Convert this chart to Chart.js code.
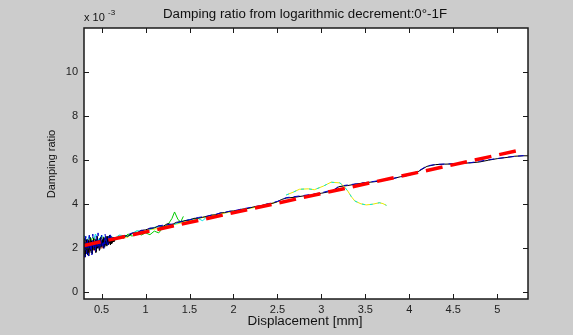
<!DOCTYPE html>
<html>
<head>
<meta charset="utf-8">
<script src="https://cdn.jsdelivr.net/npm/chart.js@4"></script>
<style>
  html, body { margin: 0; padding: 0; background: #cccccc; }
  #wrap { width: 573px; height: 335px; }
</style>
</head>
<body>
<div id="wrap"><canvas id="dampChart" width="573" height="335"></canvas></div>
<script>
// axis ticks
const xTicks = [0.5, 1, 1.5, 2, 2.5, 3, 3.5, 4, 4.5, 5];
const yTicks = [0, 2, 4, 6, 8, 10];

// main measured curve (black)
const blackX = [0.30,0.31,0.32,0.33,0.34,0.35,0.36,0.37,0.38,0.39,0.40,0.41,0.42,0.43,0.44,0.45,0.46,0.47,0.48,0.49,
  0.50,0.51,0.52,0.53,0.54,0.55,0.56,0.57,0.58,0.59,0.60,0.61,0.62,0.63,0.64,0.65,
  0.70,0.75,0.80,0.85,0.90,0.95,1.00,1.05,1.10,1.15,1.20,1.25,1.30,1.35,1.40,1.45,1.50,1.55,1.60,1.65,
  1.70,1.75,1.80,1.85,1.90,1.95,2.00,2.05,2.10,2.15,2.20,2.25,2.30,2.35,2.40,2.45,2.50,2.55,2.60,2.70,
  2.80,2.90,3.00,3.10,3.15,3.20,3.30,3.40,3.50,3.60,3.70,3.80,3.90,4.00,4.10,4.20,4.30,4.40,4.50,4.60,
  4.70,4.80,4.90,5.00,5.10,5.20,5.30,5.35];
const blackY = [1.75,2.45,1.85,2.40,1.70,2.35,1.95,2.50,1.80,2.30,1.90,2.45,2.00,2.40,1.85,2.55,2.05,2.35,1.95,2.50,
  2.10,2.40,2.00,2.45,2.15,2.55,2.10,2.40,2.20,2.60,2.15,2.45,2.25,2.50,2.30,2.45,
  2.45,2.58,2.55,2.68,2.70,2.80,2.84,2.90,2.93,3.02,3.00,3.12,3.07,3.18,3.20,3.26,3.28,3.36,3.37,3.41,
  3.45,3.51,3.52,3.61,3.62,3.68,3.70,3.72,3.78,3.80,3.85,3.90,3.92,3.98,4.02,4.05,4.12,4.22,4.28,4.32,
  4.38,4.42,4.50,4.58,4.65,4.80,4.85,4.92,4.98,5.02,5.08,5.15,5.25,5.32,5.48,5.72,5.80,5.82,5.83,5.86,
  5.88,5.92,6.00,6.07,6.12,6.18,6.20,6.20];

// extra black scatter in the dense start
const black2X = [0.305,0.315,0.325,0.335,0.345,0.355,0.365,0.375,0.385,0.395,0.405,0.415,0.425,0.435,0.445,0.455,
  0.465,0.475,0.485,0.495,0.505,0.515,0.525,0.535,0.545,0.555,0.565,0.575,0.585,0.595,0.605,0.615,0.625,0.635,0.645];
const black2Y = [2.30,1.60,2.20,1.80,2.40,1.65,2.25,1.90,2.35,1.75,2.30,1.95,2.20,1.80,2.40,2.00,
  2.30,1.90,2.45,2.05,2.35,2.10,2.50,2.05,2.35,2.20,2.55,2.15,2.40,2.25,2.55,2.20,2.45,2.30,2.50];

// second measured curve (blue)
const blueX = [0.30,0.31,0.32,0.33,0.34,0.35,0.36,0.37,0.38,0.39,0.40,0.41,0.42,0.43,0.44,0.45,0.46,0.47,0.48,0.49,
  0.50,0.51,0.52,0.53,0.54,0.55,0.56,0.57,0.58,0.59,0.60,0.61,0.62,
  0.65,0.70,0.75,0.80,0.85,0.90,0.95,1.00,1.05,1.10,1.15,1.20,1.30,1.40,1.50,1.60,1.70,1.80,1.90,2.00,
  2.10,2.20,2.30,2.40,2.50,2.60,2.80,3.00,3.15,3.20,3.40,3.60,3.80,4.00,4.10,4.20,4.30,4.50,4.70,4.90,
  5.10,5.30,5.35];
const blueY = [2.20,1.60,2.55,1.75,2.40,1.65,2.60,1.90,2.30,1.70,2.65,1.95,2.40,1.85,2.55,2.00,2.70,1.95,2.45,2.05,
  2.60,2.10,2.35,2.00,2.65,2.20,2.45,2.15,2.55,2.25,2.70,2.30,2.50,
  2.40,2.50,2.52,2.62,2.70,2.70,2.82,2.82,2.92,2.92,3.02,3.05,3.10,3.22,3.30,3.40,3.46,3.55,3.64,3.70,
  3.79,3.86,3.93,4.03,4.13,4.30,4.40,4.52,4.68,4.82,4.93,5.04,5.16,5.33,5.50,5.74,5.81,5.84,5.89,6.02,
  6.13,6.21,6.21];

// short noisy runs at small displacement
const greenX = [0.30,0.35,0.40,0.45,0.50,0.55,0.60,0.65,0.70,0.75,0.80,0.85,0.90,0.95,1.00,1.05,1.10,1.15,1.20,1.25,1.30,1.33,1.37,1.40,1.43];
const greenY = [2.45,2.20,2.50,2.25,2.45,2.30,2.50,2.35,2.55,2.45,2.65,2.55,2.75,2.60,2.70,2.62,2.78,2.70,2.95,3.05,3.35,3.65,3.30,3.20,3.45];
const cyanX = [0.30,0.33,0.36,0.40,0.43,0.47,0.50,0.55,0.60,0.65,0.70,0.80,0.90,1.00,1.10,1.20,1.30,1.40,1.50,1.60,1.65,1.70];
const cyanY = [2.60,2.30,2.55,2.20,2.65,2.35,2.60,2.40,2.55,2.45,2.60,2.55,2.80,2.75,2.95,3.00,3.05,3.20,3.30,3.35,3.25,3.45];
const yellowX = [0.30,0.35,0.40,0.45,0.50,0.60,0.70,0.80,0.85,0.95,1.05,1.15,1.25,1.35,1.50,1.70,1.90,2.10,2.30,2.50];
const yellowY = [2.30,2.10,2.40,2.20,2.50,2.35,2.55,2.50,2.70,2.65,2.85,2.90,3.00,3.10,3.25,3.45,3.60,3.75,3.90,4.10];
const redX = [0.30,0.32,0.35,0.38,0.42,0.46,0.50,0.55,0.60,0.65];
const redY = [1.55,2.00,1.70,2.10,1.90,2.20,2.00,2.30,2.20,2.40];

// run that leaves the trend near 3 mm
const branchX = [2.60,2.68,2.75,2.85,2.92,3.02,3.11,3.21,3.26,3.30,3.34,3.38,3.45,3.51,3.58,3.66,3.70,3.74];
const branchY = [4.42,4.55,4.68,4.70,4.66,4.82,5.00,4.97,4.80,4.60,4.35,4.15,4.02,3.97,4.00,4.07,4.03,3.95];

// linear fit
const fitX = [0.30, 5.25];
const fitY = [2.13, 6.45];

function pts(xs, ys) {
  return xs.map((x, i) => ({ x: x, y: ys[i] }));
}

function line(label, xs, ys, color, extra) {
  return Object.assign({
    label: label,
    data: pts(xs, ys),
    showLine: true,
    borderColor: color,
    borderWidth: 1,
    pointRadius: 0,
    fill: false
  }, extra || {});
}

const FONT = 'Arial, "Liberation Sans", sans-serif';

// draw text squeezed/stretched to a given width (MATLAB fonts run wider)
function fitText(ctx, text, cx, cy, width) {
  const w = ctx.measureText(text).width;
  ctx.save();
  ctx.translate(cx, cy);
  ctx.scale(width / w, 1);
  ctx.textAlign = 'center';
  ctx.fillText(text, 0, 0);
  ctx.restore();
}

const matlabFrame = {
  id: 'matlabFrame',
  beforeDraw(chart) {
    const ctx = chart.ctx;
    const a = chart.chartArea;
    ctx.save();
    ctx.fillStyle = '#cccccc';
    ctx.fillRect(0, 0, chart.width, chart.height);
    ctx.fillStyle = '#ffffff';
    ctx.fillRect(a.left, a.top, a.right - a.left, a.bottom - a.top);
    ctx.restore();
  },
  afterDraw(chart) {
    const ctx = chart.ctx;
    const a = chart.chartArea;
    const xs = chart.scales.x, ys = chart.scales.y;
    ctx.save();
    ctx.strokeStyle = '#1a1a1a';
    ctx.lineWidth = 1.5;
    ctx.strokeRect(a.left, a.top, a.right - a.left, a.bottom - a.top);
    ctx.lineWidth = 1;
    ctx.beginPath();
    xTicks.forEach(v => {
      const px = Math.round(xs.getPixelForValue(v)) + 0.5;
      ctx.moveTo(px, a.bottom); ctx.lineTo(px, a.bottom - 5);
      ctx.moveTo(px, a.top); ctx.lineTo(px, a.top + 5);
    });
    yTicks.forEach(v => {
      const py = Math.round(ys.getPixelForValue(v)) + 0.5;
      ctx.moveTo(a.left, py); ctx.lineTo(a.left + 5, py);
      ctx.moveTo(a.right, py); ctx.lineTo(a.right - 5, py);
    });
    ctx.stroke();

    ctx.fillStyle = '#111111';
    ctx.textBaseline = 'middle';
    ctx.font = '12px ' + FONT;
    fitText(ctx, 'Damping ratio from logarithmic decrement:0°-1F', 305, 15, 284);
    fitText(ctx, 'Displacement [mm]', 305, 322, 115);

    ctx.textAlign = 'left';
    ctx.font = '11px ' + FONT;
    ctx.fillText('x 10', 84, 18);
    ctx.font = '8px ' + FONT;
    ctx.fillText('-3', 108, 13);

    ctx.translate(52, 164);
    ctx.rotate(-Math.PI / 2);
    ctx.textAlign = 'center';
    ctx.font = '11px ' + FONT;
    ctx.fillText('Damping ratio', 0, 0);
    ctx.restore();
  }
};

new Chart(document.getElementById('dampChart').getContext('2d'), {
  type: 'scatter',
  data: {
    datasets: [
      line('Fit', fitX, fitY, '#ff0000', { borderWidth: 3.5, borderDash: [17, 8] }),
      line('Branch cyan', branchX, branchY, '#00e5e5', { borderDash: [3, 5] }),
      line('Branch', branchX, branchY, '#e8e800'),
      line('Blue', blueX, blueY, '#0000cc', { borderDash: [6, 4] }),
      line('Black', blackX, blackY, '#000000'),
      line('Black 2', black2X, black2Y, '#000000'),
      line('Green', greenX, greenY, '#00cc00'),
      line('Cyan', cyanX, cyanY, '#00e0e0'),
      line('Yellow', yellowX, yellowY, '#e8e800'),
      line('Red', redX, redY, '#ff3030')
    ]
  },
  options: {
    responsive: false,
    animation: false,
    devicePixelRatio: 1,
    layout: { padding: { top: 28, right: 45, left: 0, bottom: 0 } },
    plugins: {
      legend: { display: false },
      tooltip: { enabled: false },
      title: { display: false }
    },
    scales: {
      x: {
        type: 'linear',
        min: 0.3,
        max: 5.35,
        grid: { display: false, drawTicks: false },
        border: { display: false },
        afterBuildTicks: s => { s.ticks = xTicks.map(v => ({ value: v })); },
        afterFit: s => { s.height = 36; },
        ticks: { color: '#222222', padding: 4, font: { family: FONT, size: 11 }, maxRotation: 0,
          callback: v => String(v) }
      },
      y: {
        type: 'linear',
        min: -0.3,
        max: 12,
        grid: { display: false, drawTicks: false },
        border: { display: false },
        afterBuildTicks: s => { s.ticks = yTicks.map(v => ({ value: v })); },
        afterFit: s => { s.width = 84; },
        ticks: { color: '#222222', padding: 6, font: { family: FONT, size: 11 },
          callback: v => String(v) }
      }
    }
  },
  plugins: [matlabFrame]
});
</script>
</body>
</html>
